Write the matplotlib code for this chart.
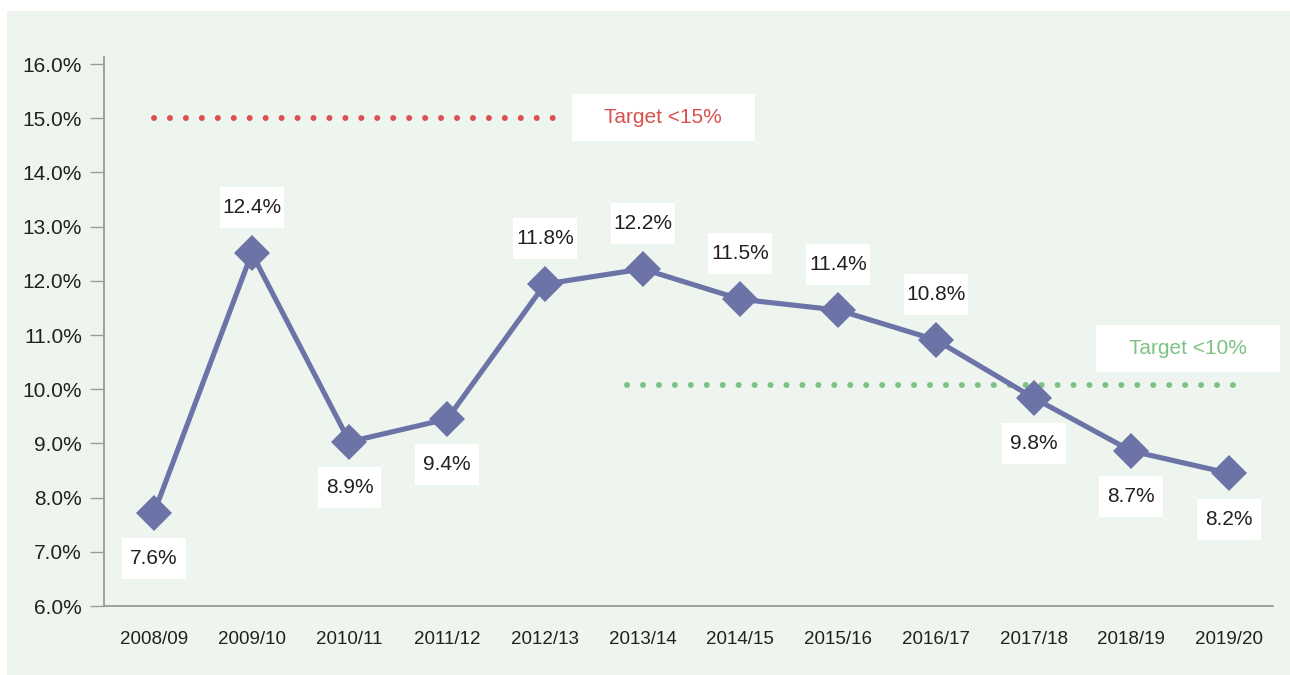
import matplotlib
matplotlib.use('Agg')
import matplotlib.pyplot as plt
from matplotlib.patches import Rectangle
from matplotlib.text import Text
from matplotlib.offsetbox import DrawingArea, AnnotationBbox

plt.rcParams['font.family'] = ['Liberation Sans', 'DejaVu Sans']

# ---- data ----
years = ['2008/09', '2009/10', '2010/11', '2011/12', '2012/13', '2013/14',
         '2014/15', '2015/16', '2016/17', '2017/18', '2018/19', '2019/20']
rate = [7.72, 12.51, 9.03, 9.45, 11.94, 12.22, 11.66, 11.46, 10.91, 9.84, 8.86, 8.45]
rate_labels = ['7.6%', '12.4%', '8.9%', '9.4%', '11.8%', '12.2%',
               '11.5%', '11.4%', '10.8%', '9.8%', '8.7%', '8.2%']
label_side = [-1, 1, -1, -1, 1, 1, 1, 1, 1, -1, -1, -1]   # 1 above, -1 below

target_values = [15.0, 10.08]
target_names = ['Target <15%', 'Target <10%']
target_spans = [(0.0, 4.15), (4.84, 11.13)]
target_label_pos = [(5.21, 15.01), (10.58, 10.75)]
target_colors = ['#D9514E', '#7DC282']

# ---- style ----
BG = '#EEF5EF'
LINE = '#6B73A7'
TXT = '#231F20'
AX_GREY = '#9A9A9A'

fig = plt.figure(figsize=(12.9, 6.75), dpi=100)
panel = Rectangle((7 / 1290, 0), 1 - 7 / 1290, 1 - 11 / 675,
                  transform=fig.transFigure, facecolor=BG, edgecolor='none')
panel.set_zorder(-10)
fig.add_artist(panel)
ax = fig.add_axes([104 / 1290, 69 / 675, 1169 / 1290, 549 / 675])
ax.set_facecolor('none')

x = list(range(len(years)))

# target dotted lines and their boxes
for val, name, span, pos, col in zip(target_values, target_names, target_spans,
                                     target_label_pos, target_colors):
    ax.plot(span, [val, val], color=col, lw=4.3, linestyle=(0, (0.01, 2.66)),
            dash_capstyle='round', zorder=2)
    da = DrawingArea(132, 34, 0, 0)
    da.add_artist(Rectangle((0, 0), 132, 34, facecolor='white', edgecolor='none'))
    da.add_artist(Text(66, 17, name, ha='center', va='center', color=col, fontsize=15))
    ax.add_artist(AnnotationBbox(da, pos, frameon=False, box_alignment=(0.5, 0.5),
                                 pad=0, zorder=3))

# main series
ax.plot(x, rate, color=LINE, lw=3.7, marker='D', markersize=18,
        markeredgewidth=0, zorder=4)

# value labels in fixed white boxes
for xi, yi, lab, side in zip(x, rate, rate_labels, label_side):
    da = DrawingArea(46, 29.5, 0, 0)
    da.add_artist(Rectangle((0, 0), 46, 29.5, facecolor='white', edgecolor='none'))
    da.add_artist(Text(23, 14.75, lab, ha='center', va='center', color=TXT, fontsize=15))
    ax.add_artist(AnnotationBbox(da, (xi, yi), xybox=(0, 33 * side),
                                 boxcoords='offset points', frameon=False,
                                 box_alignment=(0.5, 0.5), pad=0, zorder=5))

ax.set_xlim(-0.512, 11.45)
ax.set_ylim(6.0, 16.13)
ax.set_xticks(x)
ax.set_xticklabels(years)
ax.set_yticks([6, 7, 8, 9, 10, 11, 12, 13, 14, 15, 16])
ax.set_yticklabels([f'{v:.1f}%' for v in range(6, 17)])

for s in ['top', 'right']:
    ax.spines[s].set_visible(False)
for s in ['left', 'bottom']:
    ax.spines[s].set_color(AX_GREY)
    ax.spines[s].set_linewidth(1.3)

ax.tick_params(axis='y', length=10, width=1, color=AX_GREY, pad=6,
               labelsize=15, labelcolor=TXT)
ax.tick_params(axis='x', length=0, pad=18, labelsize=13.5, labelcolor=TXT)

fig.savefig('out.png', dpi=100, facecolor='white')
